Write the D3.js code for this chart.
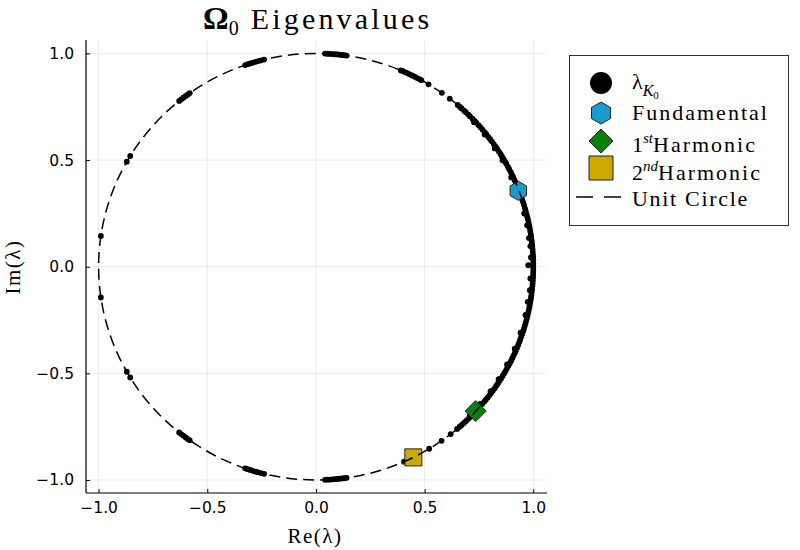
<!DOCTYPE html>
<html>
<head>
<meta charset="utf-8">
<script src="https://cdn.jsdelivr.net/npm/d3@7"></script>
<style>
  body { margin: 0; background: #fff; }
  .tick text { font-family: "DejaVu Sans", sans-serif; font-size: 15.5px; fill: #000; }
  .serif { font-family: "Liberation Serif", "DejaVu Serif", serif; fill: #000; }
</style>
</head>
<body>
<div id="plot1"></div>
<script>
// eigenvalues lying on the unit circle, angle in degrees
const clusterAngles = [
  // top, near 0.05..0.14 + i
  87.6, 87.0, 86.3, 85.7, 85.0, 84.4, 83.8, 83.1, 82.5, 81.9,
  // upper left
  109.0, 108.3, 107.6, 106.9, 106.1, 105.4, 104.6, 103.8,
  129.0, 128.3, 127.6, 126.8, 126.1, 125.5,
  150.5, 148.7, 171.7,
  // lower left (mirror)
  -171.7, -150.5, -148.7,
  -125.5, -126.1, -126.8, -127.6, -128.3, -129.0,
  -103.8, -104.6, -105.4, -106.1, -106.9, -107.6, -108.3, -109.0,
  -81.9, -82.5, -83.1, -83.8, -84.4, -85.0, -85.7, -86.3, -87.0, -87.6,
  // upper right
  67.0, 66.4, 65.7, 65.0, 64.3, 63.6, 62.9, 62.2, 61.6, 61.0,
  58.8, 54.6, 52.0,
  // lower right isolated
  -51.7, -54.7, -58.6, -66.1
];
// dense band on the right side
const bandAngles = [
  49.3, 48.5, 47.9, 47.0, 46.4, 45.5, 44.9, 44.0, 43.2, 42.5, 41.6, 40.8,
  40.0, 39.1, 38.4, 37.5, 36.7, 36.0, 35.1, 34.3, 33.6, 32.7, 31.9, 31.2,
  30.3, 29.5, 28.8, 27.9, 27.2, 26.3, 25.5, 24.8, 23.9, 23.1, 22.4, 21.6,
  20.7, 19.9, 19.2, 18.3, 17.5, 16.8, 15.9, 15.2, 14.3, 13.5, 12.8, 11.9,
  11.1, 10.4, 9.5, 8.7, 8.0, 7.1, 6.3, 5.6, 4.8, 4.0, 3.2, 2.5, 1.7, 0.9, 0.2,
  -0.6, -1.4, -2.1, -2.9, -3.7, -4.5, -5.2, -6.0, -6.8, -7.6, -8.3, -9.1,
  -9.9, -10.7, -11.4, -12.2, -13.0, -13.8, -14.5, -15.3, -16.1, -16.9,
  -17.6, -18.4, -19.2, -20.0, -20.7, -21.5, -22.3, -23.1, -23.8, -24.6,
  -25.4, -26.2, -26.9, -27.7, -28.5, -29.3, -30.0, -30.8, -31.6, -32.4,
  -33.1, -33.9, -34.7, -35.5, -36.2, -37.0, -37.8, -38.6, -39.3, -40.1,
  -40.9, -41.7, -42.4, -43.2, -44.0, -44.8, -45.5, -46.3, -47.1, -47.9,
  -48.6, -49.5
];
// eigenvalues slightly inside the circle: angle (deg) and modulus
const innerAngles = [
  0.4, 2.5, -3.2, 5.6, 7.8, -6.4, -9.6, 11.3, 14.6, -13.2, -18.2, 19.5,
  25.0, -22.8, -27.5, 30.2, 34.0, -32.1, -36.0, 38.6, -40.4, 43.0, -44.5
];
const innerRadii = [
  0.977, 0.99, 0.988, 0.991, 0.989, 0.99, 0.988, 0.991, 0.99, 0.99, 0.991, 0.992,
  0.991, 0.992, 0.991, 0.993, 0.992, 0.992, 0.993, 0.993, 0.993, 0.994, 0.994
];

// highlighted eigenvalues
const specialNames = ["Fundamental", "1st Harmonic", "2nd Harmonic"];
const specialRe = [0.931, 0.735, 0.448];
const specialIm = [0.356, -0.677, -0.894];
const specialColors = ["#189bcf", "#0a800a", "#ccaa00"];

const xTicks = [-1.0, -0.5, 0.0, 0.5, 1.0];
const yTicks = [-1.0, -0.5, 0.0, 0.5, 1.0];

const width = 800, height = 550;
const svg = d3.select("#plot1").append("svg")
  .attr("width", width).attr("height", height)
  .attr("viewBox", [0, 0, width, height]);

const plot = { left: 86, right: 547, top: 40, bottom: 493 };
const x = d3.scaleLinear().domain([-1.058, 1.063]).range([plot.left, plot.right]);
const y = d3.scaleLinear().domain([-1.061, 1.063]).range([plot.bottom, plot.top]);

// grid
const gGrid = svg.append("g").attr("stroke", "#000").attr("stroke-opacity", 0.08).attr("stroke-width", 1);
gGrid.selectAll(".gx").data(xTicks).join("line")
  .attr("x1", d => x(d)).attr("x2", d => x(d))
  .attr("y1", plot.top).attr("y2", plot.bottom);
gGrid.selectAll(".gy").data(yTicks).join("line")
  .attr("y1", d => y(d)).attr("y2", d => y(d))
  .attr("x1", plot.left).attr("x2", plot.right);

// axes
const fmt = d3.format(".1f");
const gx = svg.append("g").attr("transform", `translate(0,${plot.bottom})`)
  .call(d3.axisBottom(x).tickValues(xTicks).tickFormat(fmt).tickSize(-4).tickPadding(9).tickSizeOuter(0));
const gy = svg.append("g").attr("transform", `translate(${plot.left},0)`)
  .call(d3.axisLeft(y).tickValues(yTicks).tickFormat(fmt).tickSize(-4).tickPadding(12).tickSizeOuter(0));
[gx, gy].forEach(g => {
  g.select(".domain").attr("stroke", "#000").attr("stroke-width", 1.2);
  g.selectAll(".tick line").attr("stroke", "#000").attr("stroke-width", 1);
});
gx.select(".domain").attr("d", `M${plot.left},0H${plot.right}`);
gy.select(".domain").attr("d", `M0,${plot.bottom}V${plot.top}`);

// eigenvalue dots
const toRad = d => d * Math.PI / 180;
const eig = clusterAngles.concat(bandAngles).map(a => ({ a, r: 1 }))
  .concat(innerAngles.map((a, i) => ({ a, r: innerRadii[i] })));
svg.append("g").selectAll("circle").data(eig).join("circle")
  .attr("cx", d => x(d.r * Math.cos(toRad(d.a))))
  .attr("cy", d => y(d.r * Math.sin(toRad(d.a))))
  .attr("r", 2.9)
  .attr("fill", "#000");

// marker shapes
function hexPath(r) {
  const pts = d3.range(6).map(k => {
    const t = toRad(-90 + 60 * k);
    return [r * Math.cos(t), r * Math.sin(t)];
  });
  return "M" + pts.map(p => p.join(",")).join("L") + "Z";
}
function markerPath(i, s) {
  if (i === 0) return hexPath(s);
  if (i === 1) return `M0,${-s}L${s},0L0,${s}L${-s},0Z`;
  return `M${-s},${-s}H${s}V${s}H${-s}Z`;
}
const plotSizes = [9.5, 10.5, 8.5];
svg.append("g").selectAll("path").data(specialNames).join("path")
  .attr("d", (d, i) => markerPath(i, plotSizes[i]))
  .attr("transform", (d, i) => `translate(${x(specialRe[i])},${y(specialIm[i])})`)
  .attr("fill", (d, i) => specialColors[i])
  .attr("stroke", "#222").attr("stroke-width", 1);

// unit circle, drawn last
svg.append("ellipse")
  .attr("cx", x(0)).attr("cy", y(0))
  .attr("rx", x(1) - x(0)).attr("ry", y(0) - y(1))
  .attr("fill", "none").attr("stroke", "#000")
  .attr("stroke-width", 1.5).attr("stroke-dasharray", "11,6");

// title
const title = svg.append("text").attr("class", "serif")
  .attr("x", 203).attr("y", 29).attr("font-size", 30);
title.append("tspan").attr("font-weight", "bold").attr("font-size", 32).text("Ω");
title.append("tspan").attr("font-size", 20).attr("dy", 6).text("0");
title.append("tspan").attr("dy", -6).attr("dx", 12).attr("letter-spacing", 3.2).text("Eigenvalues");

// axis labels
svg.append("text").attr("class", "serif")
  .attr("x", 315).attr("y", 543).attr("text-anchor", "middle")
  .attr("font-size", 21).attr("letter-spacing", 1.5).text("Re(λ)");
svg.append("text").attr("class", "serif")
  .attr("transform", "translate(20,267) rotate(-90)").attr("text-anchor", "middle")
  .attr("font-size", 21).attr("letter-spacing", 1.5).text("Im(λ)");

// legend
const lg = svg.append("g");
lg.append("rect").attr("x", 569.5).attr("y", 55.5).attr("width", 219).attr("height", 170)
  .attr("fill", "#fff").attr("stroke", "#333").attr("stroke-width", 1);
const mx = 601, tx = 632;
lg.append("circle").attr("cx", mx).attr("cy", 83).attr("r", 11).attr("fill", "#000");
const legY = [113, 141, 168];
const legSizes = [11, 12, 12];
lg.selectAll(".lm").data(specialNames).join("path")
  .attr("d", (d, i) => markerPath(i, legSizes[i]))
  .attr("transform", (d, i) => `translate(${mx},${legY[i]})`)
  .attr("fill", (d, i) => specialColors[i])
  .attr("stroke", "#222").attr("stroke-width", 1);
lg.append("line").attr("x1", 576).attr("x2", 622).attr("y1", 197).attr("y2", 197)
  .attr("stroke", "#000").attr("stroke-width", 1.5).attr("stroke-dasharray", "17,11");

const t0 = lg.append("text").attr("class", "serif").attr("x", tx).attr("y", 89).attr("font-size", 22);
t0.append("tspan").text("λ");
t0.append("tspan").attr("font-style", "italic").attr("font-size", 16).attr("dy", 7).text("K");
t0.append("tspan").attr("font-size", 11).attr("dy", 3).text("0");

lg.append("text").attr("class", "serif").attr("x", tx).attr("y", 120)
  .attr("font-size", 22).attr("letter-spacing", 2).text("Fundamental");
const sups = [["1", "st"], ["2", "nd"]];
sups.forEach((s, i) => {
  const t = lg.append("text").attr("class", "serif").attr("x", tx).attr("y", [152, 180][i]).attr("font-size", 22);
  t.append("tspan").text(s[0]);
  t.append("tspan").attr("font-size", 15).attr("font-style", "italic").attr("dy", -9).text(s[1]);
  t.append("tspan").attr("dy", 9).attr("letter-spacing", 2).text("Harmonic");
});
lg.append("text").attr("class", "serif").attr("x", tx).attr("y", 206)
  .attr("font-size", 22).attr("letter-spacing", 1.7).text("Unit Circle");
</script>
</body>
</html>
